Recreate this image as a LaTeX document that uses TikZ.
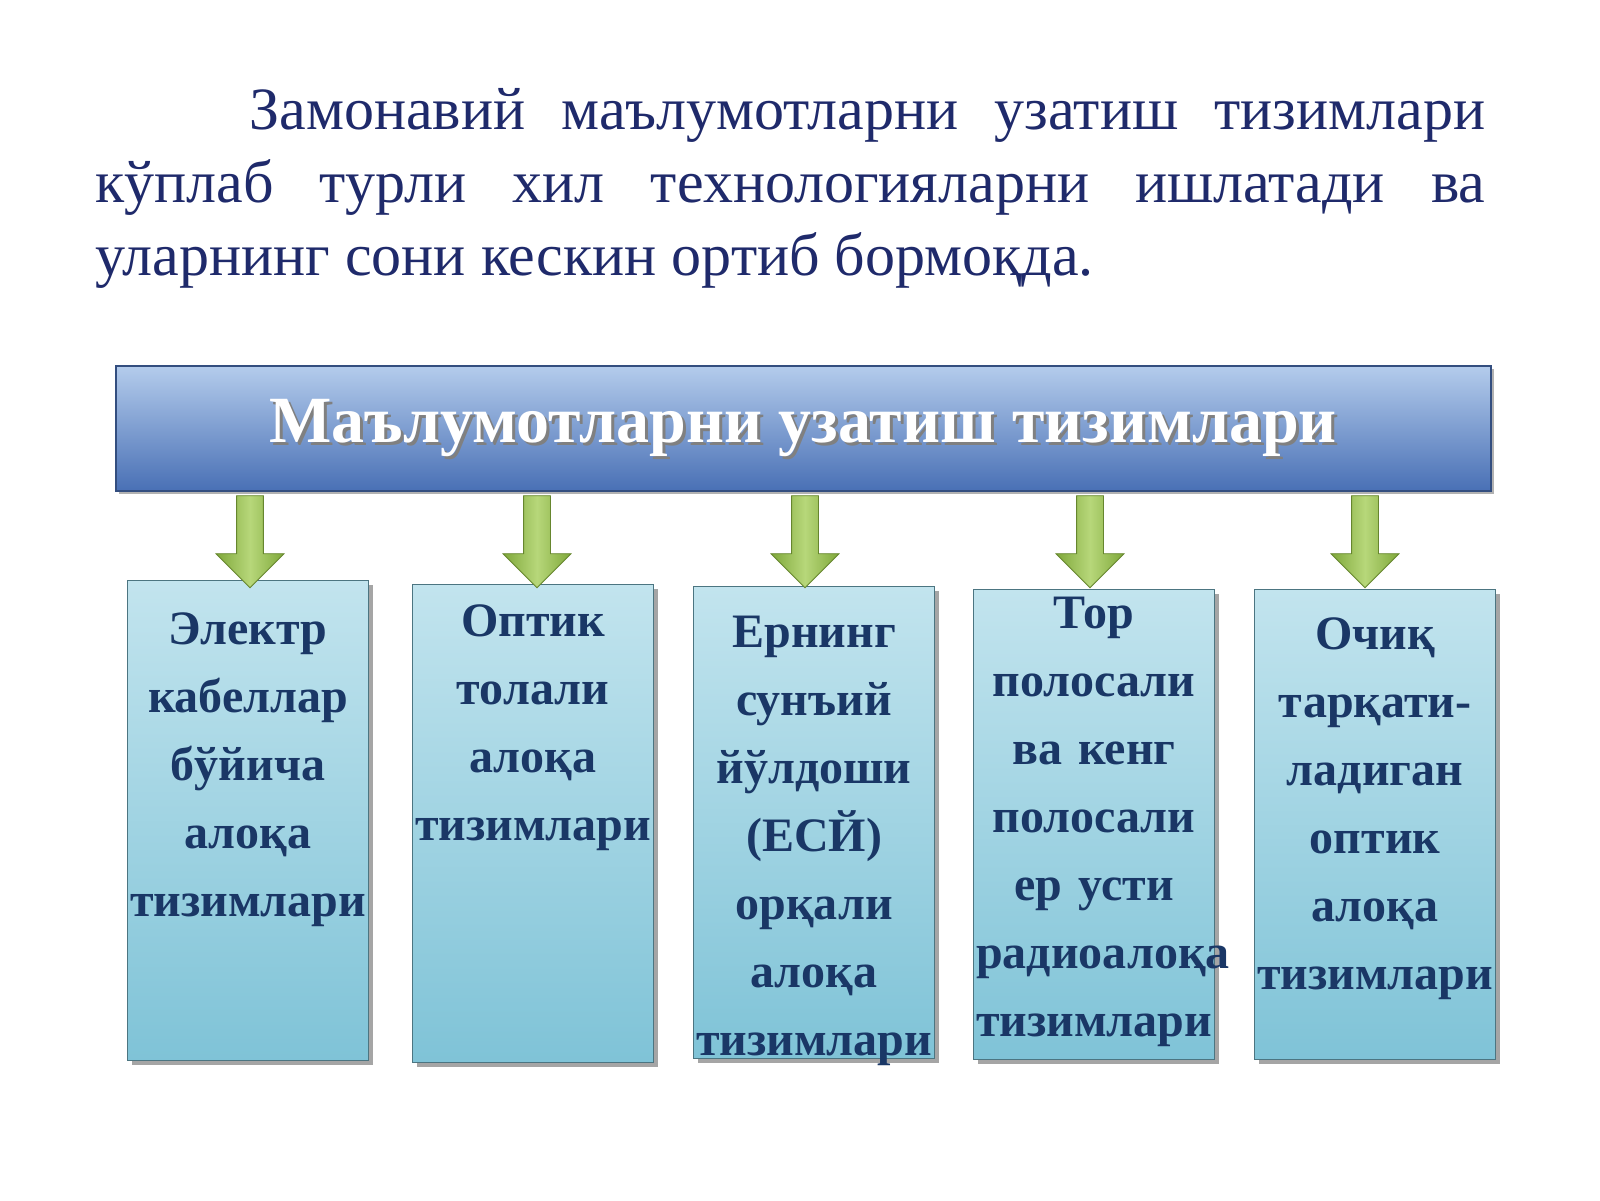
\documentclass[tikz,border=0pt]{standalone}
\usepackage{fontspec}
\setmainfont{Liberation Serif}
\usetikzlibrary{positioning,shapes.arrows,shadows}
\definecolor{navy}{HTML}{1F2A6B}
\definecolor{boxtext}{HTML}{1A3766}
\definecolor{bartop}{HTML}{B4CCEC}
\definecolor{barbot}{HTML}{4970B5}
\definecolor{boxtop}{HTML}{C2E4EE}
\definecolor{boxbot}{HTML}{7FC3D7}
\definecolor{arrtop}{HTML}{B7D77A}
\definecolor{arrbot}{HTML}{7FA83A}
\tikzset{x=0.5pt,y=-0.5pt}
\tikzset{
  bar/.style={draw=barbot!70!black,line width=0.8pt,top color=bartop,bottom color=barbot,
    minimum width=687.5pt,minimum height=62.5pt,anchor=north west,
    drop shadow={shadow xshift=1.5pt,shadow yshift=-1.5pt,opacity=0.6}},
  sys/.style={draw=boxbot!60!black,line width=0.6pt,top color=boxtop,bottom color=boxbot,
    minimum width=120.5pt,anchor=north west,
    drop shadow={shadow xshift=2pt,shadow yshift=-2pt,opacity=0.7}},
  syslab/.style={anchor=north,text width=118pt,align=center,inner sep=0pt,
    text=boxtext,font=\fontsize{24}{34}\selectfont\bfseries},
  down/.style={single arrow,shape border rotate=270,draw=arrbot!80!black,line width=0.4pt,
    left color=arrbot,right color=arrbot,middle color=arrtop,
    minimum height=46pt,minimum width=34pt,single arrow head extend=8pt,inner sep=5pt}
}
\begin{document}
\begin{tikzpicture}
\fill[white] (0,0) rectangle (1600,1200);
% paragraph
\node[anchor=north west,text width=695pt,align=justify,text=navy,inner sep=0pt,
  font=\fontsize{30}{36.5}\selectfont] (intro) at (95,88)
  {\hspace*{77pt}Замонавий маълумотларни узатиш тизимлари кўплаб турли хил технологияларни ишлатади ва уларнинг сони кескин ортиб бормоқда.};
% header
\node[bar] (head) at (115,365) {};
\node[text=black!50,font=\fontsize{33}{35}\selectfont\bfseries] at ([xshift=1.5pt,yshift=-1.5pt]head.center) {Маълумотларни узатиш тизимлари};
\node[text=white,font=\fontsize{33}{35}\selectfont\bfseries] (title) at (head.center) {Маълумотларни узатиш тизимлари};
% boxes
\node[sys,minimum height=240pt] (b1) at (127,580) {};
\node[sys,minimum height=239pt] (b2) at (412,584) {};
\node[sys,minimum height=236pt] (b3) at (693,586) {};
\node[sys,minimum height=235pt] (b4) at (973,589) {};
\node[sys,minimum height=235pt] (b5) at (1254,589) {};
\node[syslab] (t1) at ([yshift=-16pt]b1.north) {Электр\\кабеллар\\бўйича\\алоқа\\тизимлари};
\node[syslab] (t2) at ([yshift=-10pt]b2.north) {Оптик\\толали\\алоқа\\тизимлари};
\node[syslab] (t3) at ([yshift=-15pt]b3.north) {Ернинг\\сунъий\\йўлдоши\\(ЕСЙ)\\орқали\\алоқа\\тизимлари};
\node[syslab] (t4) at ([yshift=-4pt]b4.north) {Тор\\полосали\\ва кенг\\полосали\\ер усти\\радиоалоқа\\тизимлари};
\node[syslab] (t5) at ([yshift=-14pt]b5.north) {Очиқ\\тарқати-\\ладиган\\оптик\\алоқа\\тизимлари};
% arrows
\foreach \n/\x in {b1/250,b2/537,b3/805,b4/1090,b5/1365}
  \node[down] (a\n) at (\x,535) {};
\pgfresetboundingbox
\useasboundingbox (0,0) rectangle (1600,1200);
\end{tikzpicture}
\end{document}
